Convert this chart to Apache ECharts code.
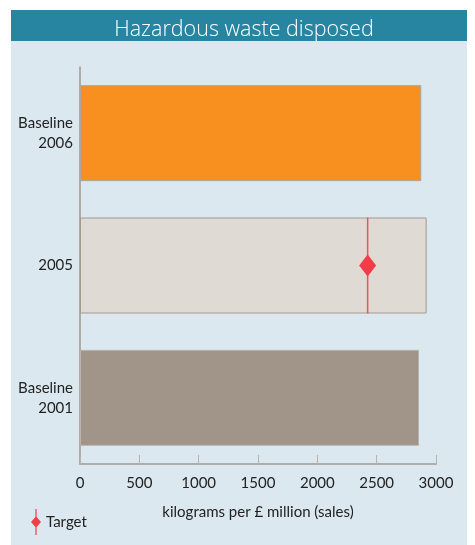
<!DOCTYPE html>
<html>
<head>
<meta charset="utf-8">
<script src="https://cdn.jsdelivr.net/npm/echarts@6/dist/echarts.min.js"></script>
<style>
  html, body { margin: 0; padding: 0; background: #ffffff; }
  #chart { width: 475px; height: 545px; }
</style>
</head>
<body>
<div id="chart"></div>
<script>
// Categories from bottom to top of the chart
const categories = ['Baseline\n2001', '2005', 'Baseline\n2006'];
// Hazardous waste, kilograms per £ million (sales)
const wasteValues = [2857, 2921, 2876];
const targetCategory = '2005';
const targetValue = 2424;
const xTicks = [0, 500, 1000, 1500, 2000, 2500, 3000];

const barColors = ['#a19589', '#dfdad4', '#f7901e'];
const barBorders = ['#b9b3ac', '#a39a90', '#a9a6a2'];

const font = 'Lato, "Open Sans", sans-serif';
const chart = echarts.init(document.getElementById('chart'), null, { renderer: 'canvas' });

const BAR_PX = 96;

chart.setOption({
  backgroundColor: '#ffffff',
  animation: false,
  graphic: [
    { type: 'rect', z: -10, shape: { x: 11, y: 41, width: 456, height: 504 }, style: { fill: '#dce8f0' } },
    { type: 'rect', z: -10, shape: { x: 11, y: 10, width: 456, height: 31 }, style: { fill: '#2885a2' } }
  ],
  title: {
    text: 'Hazardous waste disposed',
    left: 239, textAlign: 'center', top: 10,
    textStyle: { color: '#ffffff', fontFamily: '"Open Sans", sans-serif', fontWeight: 300, fontSize: 21.5, lineHeight: 30 }
  },
  legend: {
    left: 26, top: 504,
    itemWidth: 10, itemHeight: 26, itemGap: 3,
    textStyle: { fontFamily: font, fontSize: 15, color: '#222' },
    data: [{
      name: 'Target',
      icon: 'path://M4.4,0 L5.6,0 L5.6,8 L10,13 L5.6,18 L5.6,26 L4.4,26 L4.4,18 L0,13 L4.4,8 Z',
      itemStyle: { color: '#f03e48' }
    }]
  },
  grid: { left: 80, right: 39, top: 67, bottom: 81, containLabel: false },
  xAxis: {
    type: 'value', min: 0, max: 3000, interval: 500,
    name: 'kilograms per £ million (sales)', nameLocation: 'middle', nameGap: 41,
    nameTextStyle: { fontFamily: font, fontSize: 15, color: '#222' },
    axisLine: { show: true, lineStyle: { color: '#b2ada8', width: 2 } },
    axisTick: { show: true, inside: true, length: 9, lineStyle: { color: '#b8b3ae', width: 1 } },
    axisLabel: {
      fontFamily: font, fontSize: 15, color: '#222', margin: 12,
      formatter: v => xTicks.includes(v) ? String(v) : ''
    },
    splitLine: { show: false }
  },
  yAxis: {
    type: 'category', data: categories,
    axisLine: { show: true, lineStyle: { color: '#a0978d', width: 1.5 } },
    axisTick: { show: false },
    axisLabel: { fontFamily: font, fontSize: 15, color: '#222', margin: 7, lineHeight: 20, align: 'right' }
  },
  series: [
    {
      name: 'Hazardous waste', type: 'bar', barWidth: BAR_PX,
      data: wasteValues.map((v, i) => ({
        value: v,
        itemStyle: { color: barColors[i], borderColor: barBorders[i], borderWidth: 1 }
      })),
      z: 2
    },
    {
      name: 'Target', type: 'custom', z: 5,
      encode: { x: 0, y: 1 },
      data: [[targetValue, targetCategory]],
      renderItem: function (params, api) {
        const p = api.coord([api.value(0), api.value(1)]);
        const h = BAR_PX;
        return {
          type: 'group',
          children: [
            { type: 'line', shape: { x1: p[0], y1: p[1] - h / 2, x2: p[0], y2: p[1] + h / 2 },
              style: { stroke: '#e8555a', lineWidth: 1.5 } },
            { type: 'polygon',
              shape: { points: [[p[0], p[1] - 11], [p[0] + 8.5, p[1]], [p[0], p[1] + 11], [p[0] - 8.5, p[1]]] },
              style: { fill: '#f23d48' } }
          ]
        };
      }
    }
  ]
});
</script>
</body>
</html>
